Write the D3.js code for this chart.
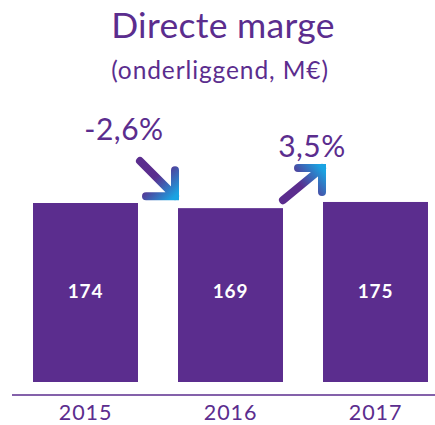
<!DOCTYPE html>
<html>
<head>
<meta charset="utf-8">
<script src="https://cdn.jsdelivr.net/npm/d3@7"></script>
<style>
  html, body { margin: 0; padding: 0; background: #fff; }
  svg { display: block; }
  text { font-family: Lato, "Noto Sans", sans-serif; }
</style>
</head>
<body>
<svg id="chart" width="435" height="425"></svg>
<script>
// Directe marge (onderliggend, M€)
const years = ["2015", "2016", "2017"];
const values = [174, 169, 175];
const changes = [
  { from: "2015", to: "2016", label: "-2,6%" },
  { from: "2016", to: "2017", label: "3,5%" }
];

const W = 435, H = 425;
const purple = "#5b2d8e";
const blue = "#1aa3e2";

const svg = d3.select("#chart");

const x = d3.scaleBand()
  .domain(years)
  .range([13, 448])
  .paddingInner(0.276)
  .paddingOuter(0.138);

const baseY = 382;
const y = d3.scaleLinear().domain([0, 174]).range([baseY, 203]);

// Title
svg.append("text")
  .attr("x", 223).attr("y", 38)
  .attr("text-anchor", "middle")
  .attr("font-size", 35.5)
  .attr("letter-spacing", 0.3)
  .attr("fill", purple)
  .text("Directe marge");

svg.append("text")
  .attr("x", 220).attr("y", 79)
  .attr("text-anchor", "middle")
  .attr("font-size", 24.5)
  .attr("letter-spacing", 0.9)
  .attr("fill", purple)
  .text("(onderliggend, M€)");

// Bars
svg.selectAll("rect.bar")
  .data(years)
  .join("rect")
  .attr("class", "bar")
  .attr("x", d => x(d))
  .attr("y", (d, i) => y(values[i]))
  .attr("width", x.bandwidth())
  .attr("height", (d, i) => baseY - y(values[i]))
  .attr("fill", purple);

// Values inside bars
svg.selectAll("text.val")
  .data(years)
  .join("text")
  .attr("class", "val")
  .attr("x", d => x(d) + x.bandwidth() / 2)
  .attr("y", 297.5)
  .attr("text-anchor", "middle")
  .attr("font-size", 19)
  .attr("letter-spacing", 0.8)
  .attr("font-weight", 700)
  .attr("fill", "#fff")
  .text((d, i) => values[i]);

// Baseline axis
const axis = d3.axisBottom(x).tickSize(0).tickPadding(0);
const gAxis = svg.append("g").attr("transform", "translate(0,395)").call(axis);
gAxis.select(".domain").remove();
gAxis.append("line")
  .attr("x1", 12).attr("x2", W)
  .attr("stroke", purple).attr("stroke-width", 1.5);
gAxis.selectAll(".tick text")
  .attr("y", 25)
  .attr("dy", 0)
  .attr("font-size", 21.5)
  .attr("letter-spacing", 0.9)
  .attr("font-family", "Lato, 'Noto Sans', sans-serif")
  .attr("fill", purple);

// Change arrows between bars
const defs = svg.append("defs");
changes.forEach((c, i) => {
  const gapL = x(c.from) + x.bandwidth();
  const gapR = x(c.to);
  const vFrom = values[years.indexOf(c.from)];
  const vTo = values[years.indexOf(c.to)];
  const down = vTo < vFrom;
  let x0, y0, x1, y1, path, lx, ly;
  if (down) {
    x0 = gapL + 2; y0 = y(vFrom) - 42;
    x1 = gapR - 3; y1 = y(vTo) - 12;
    path = `M${x0},${y0}L${x1},${y1}M${x1},${y1 - 26}L${x1},${y1}L${x1 - 29},${y1}`;
    lx = gapL - 14; ly = 140;
  } else {
    x0 = gapL + 0; y0 = y(vFrom) - 8;
    x1 = gapR - 1; y1 = y(vTo) - 34;
    path = `M${x0},${y0}L${x1},${y1}M${x1 - 24},${y1}L${x1},${y1}L${x1},${y1 + 24}`;
    lx = gapL + 29; ly = 157;
  }
  const gid = "arrowGrad" + i;
  const grad = defs.append("linearGradient")
    .attr("id", gid)
    .attr("gradientUnits", "userSpaceOnUse")
    .attr("x1", x0).attr("y1", y0)
    .attr("x2", x1).attr("y2", y1);
  grad.append("stop").attr("offset", "0%").attr("stop-color", purple);
  grad.append("stop").attr("offset", "45%").attr("stop-color", purple);
  grad.append("stop").attr("offset", "100%").attr("stop-color", blue);

  svg.append("path")
    .attr("d", path)
    .attr("fill", "none")
    .attr("stroke", `url(#${gid})`)
    .attr("stroke-width", 8)
    .attr("stroke-linecap", "round")
    .attr("stroke-linejoin", "miter");

  svg.append("text")
    .attr("x", lx).attr("y", ly)
    .attr("text-anchor", "middle")
    .attr("font-size", 30)
    .attr("letter-spacing", 0.5)
    .attr("fill", purple)
    .text(c.label);
});
</script>
</body>
</html>
